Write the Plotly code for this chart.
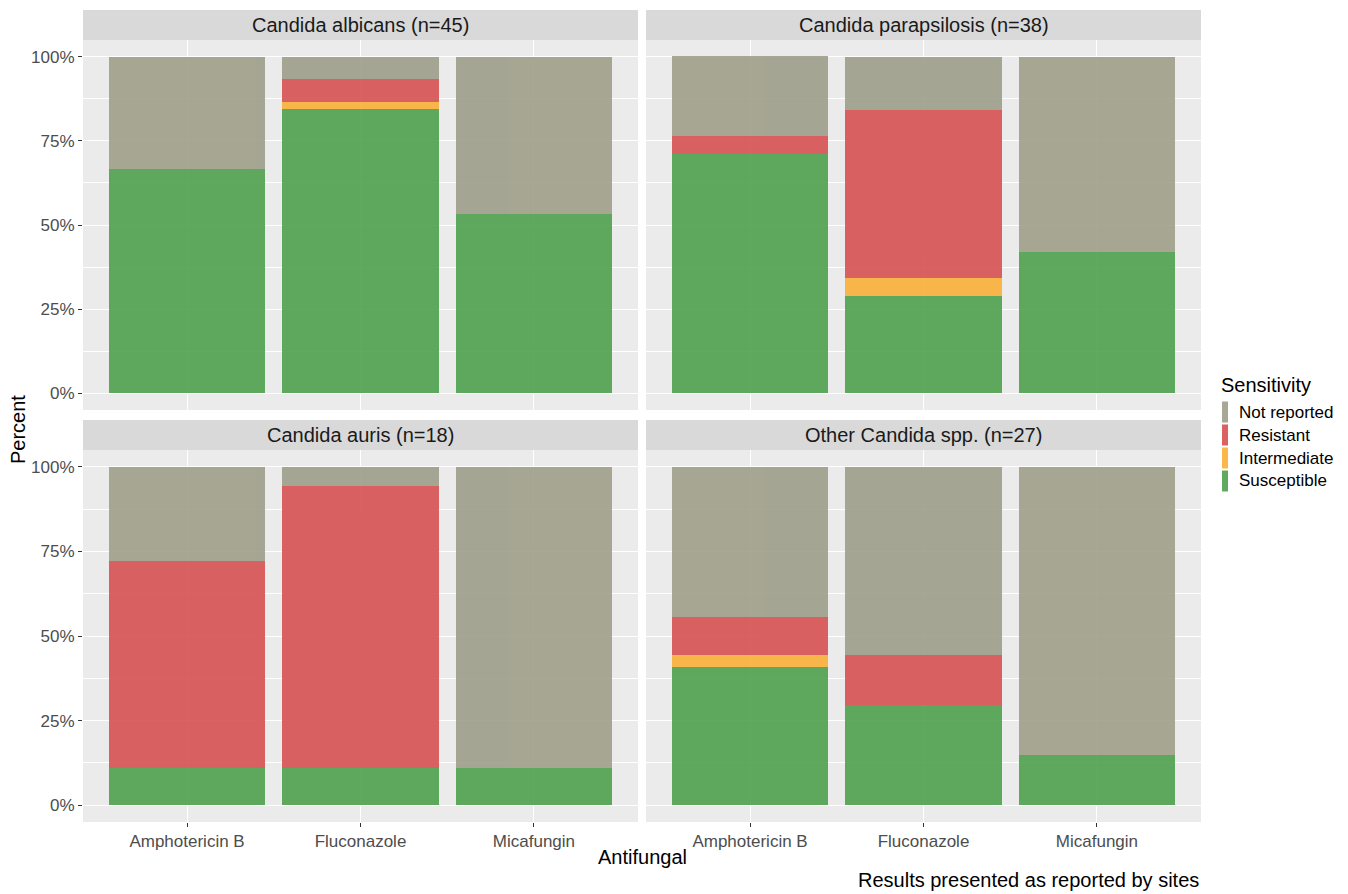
import plotly.graph_objects as go
from plotly.subplots import make_subplots

species = ["Candida albicans (n=45)", "Candida parapsilosis (n=38)",
           "Candida auris (n=18)", "Other Candida spp. (n=27)"]
antifungals = ["Amphotericin B", "Fluconazole", "Micafungin"]

# percentages per species (rows) and antifungal (columns)
susceptible = [[66.7, 84.4, 53.3], [71.1, 28.9, 42.1], [11.1, 11.1, 11.1], [40.7, 29.6, 14.8]]
intermediate = [[0.0, 2.2, 0.0], [0.0, 5.3, 0.0], [0.0, 0.0, 0.0], [3.7, 0.0, 0.0]]
resistant = [[0.0, 6.7, 0.0], [5.3, 50.0, 0.0], [61.1, 83.3, 0.0], [11.1, 14.8, 0.0]]
not_reported = [[33.3, 6.7, 46.7], [23.7, 15.8, 57.9], [27.8, 5.6, 88.9], [44.4, 55.6, 85.2]]

series = [
    ("Susceptible", susceptible, "rgb(78,161,78)"),
    ("Intermediate", intermediate, "rgb(249,176,56)"),
    ("Resistant", resistant, "rgb(215,81,81)"),
    ("Not reported", not_reported, "rgb(158,158,138)"),
]

W, H = 1348, 894
L, R, T, B = 83, 1201, 10, 822
pw, ph = R - L, B - T

def px_x(x):
    return (x - L) / pw

def px_y(y):
    return (B - y) / ph

xdom = [[0, px_x(638)], [px_x(646), 1]]
ydom_top = [px_y(410), px_y(40)]
ydom_bot = [0, px_y(450)]

fig = make_subplots(rows=2, cols=2, horizontal_spacing=0.0, vertical_spacing=0.0)

positions = [(1, 1), (1, 2), (2, 1), (2, 2)]
for si, (r, c) in enumerate(positions):
    for name, vals, col in series:
        fig.add_trace(go.Bar(
            x=antifungals, y=[v / 100 for v in vals[si]], name=name,
            marker=dict(color=col, line=dict(width=0)), opacity=0.9,
            width=0.9, showlegend=False, legendgroup=name,
        ), row=r, col=c)

fig.update_layout(barmode="stack")

font = "Liberation Sans, Arial, sans-serif"
for si, (r, c) in enumerate(positions):
    xd = xdom[c - 1]
    yd = ydom_top if r == 1 else ydom_bot
    fig.update_xaxes(row=r, col=c, domain=xd, range=[-0.6, 2.6],
                     showgrid=True, gridcolor="white", gridwidth=1.1,
                     showticklabels=(r == 2), ticks="outside" if r == 2 else "", ticklen=4,
                     tickcolor="#333333", tickwidth=1,
                     tickfont=dict(family=font, size=17, color="#4D4D4D"),
                     zeroline=False, showline=False, fixedrange=True)
    fig.update_yaxes(row=r, col=c, domain=yd, range=[-0.05, 1.05],
                     tickvals=[0, 0.25, 0.5, 0.75, 1.0], tickformat=".0%",
                     showgrid=True, gridcolor="white", gridwidth=1.1,
                     minor=dict(tickvals=[0.125, 0.375, 0.625, 0.875], showgrid=True,
                                gridcolor="white", gridwidth=0.5, ticks=""),
                     showticklabels=(c == 1), ticks="outside" if c == 1 else "",
                     ticklen=4, tickcolor="#333333", tickwidth=1,
                     tickfont=dict(family=font, size=17, color="#4D4D4D"),
                     zeroline=False, showline=False, fixedrange=True)

shapes = []
annotations = []
strip_top = [px_y(40), 1.0]
strip_bot = [px_y(450), px_y(420)]
for si, (r, c) in enumerate(positions):
    xd = xdom[c - 1]
    sd = strip_top if r == 1 else strip_bot
    shapes.append(dict(type="rect", xref="paper", yref="paper", x0=xd[0], x1=xd[1],
                       y0=sd[0], y1=sd[1], fillcolor="#D9D9D9", line=dict(width=0),
                       layer="below"))
    annotations.append(dict(text=species[si], xref="paper", yref="paper",
                            x=(xd[0] + xd[1]) / 2, y=(sd[0] + sd[1]) / 2,
                            showarrow=False, xanchor="center", yanchor="middle",
                            font=dict(family=font, size=20, color="#1A1A1A")))

annotations.append(dict(text="Percent", xref="paper", yref="paper", x=px_x(18), y=px_y(430),
                        textangle=-90, showarrow=False, xanchor="center", yanchor="middle",
                        font=dict(family=font, size=20, color="black")))
annotations.append(dict(text="Antifungal", xref="paper", yref="paper", x=px_x(642), y=px_y(857),
                        showarrow=False, xanchor="center", yanchor="middle",
                        font=dict(family=font, size=20, color="black")))
annotations.append(dict(text="Results presented as reported by sites", xref="paper", yref="paper",
                        x=1.0, y=px_y(880), showarrow=False, xanchor="right", yanchor="middle",
                        font=dict(family=font, size=20, color="black")))

# legend (ggplot style: title + thin keys), order reversed (top = last stacked)
annotations.append(dict(text="Sensitivity", xref="paper", yref="paper", x=px_x(1219), y=px_y(385),
                        showarrow=False, xanchor="left", yanchor="middle",
                        font=dict(family=font, size=20, color="black")))
key_centers = [412, 435, 458, 481]
for k, (name, vals, col) in enumerate(reversed(series)):
    yc = key_centers[k]
    shapes.append(dict(type="rect", xref="paper", yref="paper",
                       x0=px_x(1222), x1=px_x(1228), y0=px_y(yc + 10.5), y1=px_y(yc - 10.5),
                       fillcolor=col, opacity=0.9, line=dict(width=0)))
    annotations.append(dict(text=name, xref="paper", yref="paper", x=px_x(1237), y=px_y(yc),
                            showarrow=False, xanchor="left", yanchor="middle",
                            font=dict(family=font, size=17, color="black")))

fig.update_layout(
    width=W, height=H,
    margin=dict(l=L, r=W - R, t=T, b=H - B, pad=0),
    paper_bgcolor="white", plot_bgcolor="#EBEBEB",
    shapes=shapes, annotations=annotations, showlegend=False,
)

fig.write_html("out.html", config={"displayModeBar": False},
               post_script="document.body.style.margin='0';document.body.style.overflow='hidden';")
